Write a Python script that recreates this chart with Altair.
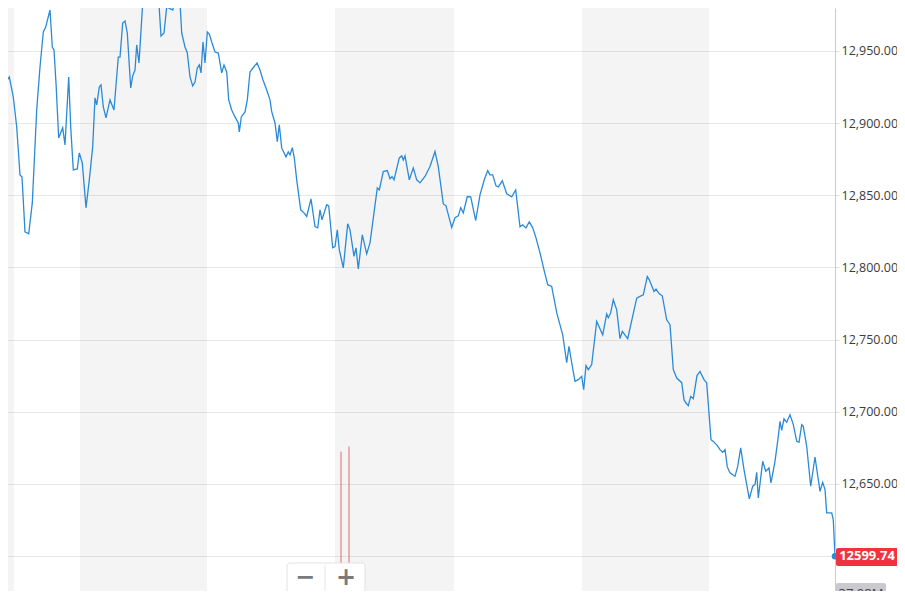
import altair as alt
import pandas as pd

# ---- data (time index, index level) ----
t = [0, 2.7, 5, 7.3, 9.3, 13.3, 16.7, 20, 22, 25, 28.7, 32.3, 36.7, 40, 43.3, 45.7, 50, 52.3, 54, 56,
     58.7, 62.7, 65, 68.7, 70.7, 73.3, 77.3, 79.3, 82.3, 86, 89.3, 92.7, 95, 96.7, 99.3, 101, 103.3, 106,
     110, 114, 118.3, 120, 122.7, 125, 127.3, 130.7, 132.7, 135, 136.7, 139, 142.7, 146, 150, 154, 158.7,
     161, 164, 166.7, 172.7, 175, 176.7, 180, 181.7, 185, 187.3, 190, 192.7, 195, 197.3, 199.3, 201, 203,
     205, 207.3, 209.3, 212, 215, 218.3, 221.7, 224, 226.7, 228.7, 231.7, 235, 238.3, 239.3, 241.3, 245,
     247.3, 250, 253, 257, 260, 263, 266, 270, 271.7, 275, 277.3, 279.3, 281.7, 286, 288.3, 290, 292.3,
     294.3, 296.7, 300.7, 304, 306.7, 311, 315, 317.7, 320, 322, 326.7, 328.7, 332.7, 335, 337.3, 339.3,
     343.3, 347.7, 350, 354, 356, 358.3, 362.3, 366.7, 370, 374, 377.3, 379.3, 383.3, 387.3, 390, 392, 394,
     399.3, 401.7, 403.3, 405, 409.3, 413.3, 416.7, 420, 425, 430, 435, 438.3, 443.3, 446, 451.7, 455,
     458.3, 460.7, 463.3, 467.3, 470.7, 475.7, 480, 484.3, 487.7, 490, 492.7, 496, 498.3, 502.3, 506.7,
     511.7, 515.7, 520, 522.7, 526, 529.3, 532.7, 536, 540, 544, 547.7, 551.7, 556.7, 562.7, 566.7, 569,
     571.7, 575, 578.3, 581.7, 583.7, 586, 588.3, 591.7, 596.7, 602.7, 606.7, 608.3, 610.7, 613.3, 616.7,
     620, 622.3, 627.7, 636.7, 640, 643.3, 647.3, 649.3, 654, 656, 659.3, 662.3, 666.7, 670, 673.3, 676.7,
     681.7, 684, 686, 688.3, 690.7, 693.3, 697, 700, 704, 706.7, 711, 713.3, 717.3, 720, 722.7, 725, 727.3,
     730, 735, 737.7, 740.7, 744, 749.3, 752.7, 755, 756.7, 758.3, 762.7, 765.7, 769, 771, 775, 778.3, 780,
     781.7, 784, 786.7, 790, 793.3, 796.7, 799, 801.7, 803.3, 806.7, 810.7, 815, 820, 822.7, 825, 826.7,
     831.7, 833.3, 835]

price = [12935.5, 12932.0, 12916.8, 12929.9, 12932.0, 12918.1, 12897.4, 12864.1, 12862.7, 12824.7,
         12823.3, 12844.7, 12909.1, 12938.9, 12963.2, 12966.6, 12978.4, 12952.8, 12950.7, 12927.8,
         12889.8, 12896.7, 12884.9, 12932.0, 12897.4, 12867.6, 12868.3, 12879.4, 12872.4, 12841.3,
         12860.7, 12883.5, 12917.5, 12912.6, 12925.1, 12926.5, 12911.2, 12903.6, 12916.1, 12909.1,
         12945.8, 12945.8, 12969.4, 12970.8, 12962.5, 12924.4, 12932.7, 12936.8, 12954.2, 12941.7,
         12983.2, 12996.0, 12993.0, 12991.0, 12985.3, 12960.4, 12962.5, 12980.5, 12978.4, 12983.9,
         12980.5, 12983.9, 12962.5, 12952.8, 12948.6, 12932.0, 12925.8, 12928.5, 12938.2, 12940.3,
         12934.8, 12956.2, 12941.7, 12963.2, 12961.8, 12955.5, 12949.3, 12948.6, 12934.8, 12940.3,
         12935.5, 12916.1, 12909.1, 12904.3, 12900.1, 12893.9, 12904.3, 12907.8, 12916.1, 12935.5,
         12938.2, 12941.7, 12936.8, 12929.9, 12924.4, 12916.1, 12908.0, 12900.1, 12887.2, 12898.8,
         12882.8, 12876.6, 12880.1, 12878.0, 12883.0, 12875.9, 12860.7, 12839.9, 12837.8, 12835.3,
         12847.5, 12828.3, 12827.4, 12839.9, 12833.0, 12843.4, 12842.7, 12813.6, 12814.5, 12826.0,
         12812.2, 12799.7, 12830.2, 12826.0, 12807.6, 12813.6, 12799.0, 12822.6, 12809.4, 12817.0,
         12837.8, 12855.1, 12853.7, 12866.4, 12867.1, 12861.4, 12863.0, 12860.7, 12875.9, 12877.3,
         12874.5, 12877.3, 12860.7, 12869.0, 12860.7, 12858.6, 12863.0, 12869.9, 12880.3, 12869.9,
         12844.0, 12842.7, 12827.6, 12834.4, 12835.7, 12841.3, 12837.8, 12849.1, 12848.9, 12832.5,
         12850.3, 12860.7, 12867.1, 12864.1, 12864.1, 12856.5, 12855.8, 12860.0, 12851.0, 12848.9,
         12853.7, 12828.1, 12829.5, 12827.4, 12831.6, 12827.4, 12820.5, 12810.1, 12798.3, 12788.0,
         12786.8, 12768.6, 12753.3, 12733.9, 12745.2, 12733.9, 12721.0, 12722.2, 12724.5, 12715.2,
         12731.9, 12729.1, 12732.6, 12762.5, 12753.3, 12767.7, 12765.1, 12768.6, 12777.6, 12770.6,
         12750.6, 12755.6, 12750.6, 12778.7, 12779.9, 12781.0, 12793.7, 12791.4, 12783.3, 12785.0,
         12781.7, 12780.3, 12763.7, 12760.3, 12729.1, 12723.3, 12720.1, 12708.3, 12706.0, 12704.2,
         12710.6, 12709.0, 12725.0, 12727.9, 12722.2, 12719.9, 12680.6, 12679.4, 12676.5, 12673.7,
         12671.8, 12673.7, 12661.7, 12657.6, 12655.2, 12662.1, 12674.9, 12659.8, 12639.5, 12648.3,
         12649.5, 12658.0, 12640.2, 12665.6, 12658.7, 12661.0, 12650.6, 12665.6, 12682.9, 12693.3,
         12687.1, 12695.0, 12692.6, 12697.9, 12691.0, 12679.4, 12678.7, 12691.0, 12689.8, 12676.0,
         12648.3, 12668.6, 12644.8, 12651.0, 12646.0, 12629.9, 12629.9, 12625.0, 12599.74]

band_start = [0, 80, 335, 582]
band_end = [14, 207, 454, 709]
marker_t = [341, 349]
marker_top = [12672.3, 12675.8]
y_ticks = [12600, 12650, 12700, 12750, 12800, 12850, 12900, 12950]
last_price = price[-1]
volume_label = "37.08M"
zoom_labels = ["\u2212", "+"]

W, H = 827, 583
BLUE = "#2a8ad8"

line_df = pd.DataFrame({"t": t, "price": price})
band_df = pd.DataFrame({"t0": band_start, "t1": band_end})
marker_df = pd.DataFrame({"t": marker_t, "top": marker_top})
last_df = pd.DataFrame({"t": [t[-1]], "price": [last_price], "label": [f"{last_price:.2f}"]})
vol_df = pd.DataFrame({"label": [volume_label]})
zoom_df = pd.DataFrame({"label": zoom_labels, "px": [297, 338]})
one = pd.DataFrame({"k": [0]})

xs = alt.Scale(domain=[8, 835], nice=False, zero=False)
ys = alt.Scale(domain=[12575.7, 12979.8], nice=False, zero=False)

bands = alt.Chart(band_df).mark_rect(color="#000000", opacity=0.042).encode(
    x=alt.X("t0:Q", scale=xs, axis=None),
    x2="t1:Q",
    y=alt.value(0),
    y2=alt.value(H),
)

line = alt.Chart(line_df).mark_line(color=BLUE, strokeWidth=1.3, clip=True).encode(
    x=alt.X("t:Q", scale=xs, axis=None),
    y=alt.Y("price:Q", scale=ys,
            axis=alt.Axis(orient="right", values=y_ticks, format=",.2f", title=None,
                          labelFont="Open Sans", labelFontSize=12.5, labelColor="#3c3c3c",
                          gridColor="#e8e8e8", domainColor="#cccccc", tickColor="#dddddd",
                          tickSize=4, labelPadding=2, labelBaseline="middle")),
)

markers = alt.Chart(marker_df).mark_rule(color="#e46b6b", strokeWidth=1).encode(
    x=alt.X("t:Q", scale=xs),
    y=alt.Y("top:Q", scale=ys),
    y2=alt.value(H),
)

zoom_box = alt.Chart(one).mark_rect(fill="#ffffff", stroke="#e2e2e2", strokeWidth=1,
                                    cornerRadius=3).encode(
    x=alt.value(279), x2=alt.value(357), y=alt.value(555), y2=alt.value(585)
)
zoom_div = alt.Chart(one).mark_rule(color="#e6e6e6").encode(
    x=alt.value(317), y=alt.value(557), y2=alt.value(583)
)
zoom_txt = alt.Chart(zoom_df).mark_text(font="DejaVu Sans", fontSize=24, fontWeight="bold",
                                        color="#7a7a7a", baseline="middle").encode(
    x=alt.X("px:Q", scale=None), y=alt.value(570), text="label:N"
)

dot = alt.Chart(last_df).mark_circle(color=BLUE, size=42, opacity=1, clip=False).encode(
    x=alt.X("t:Q", scale=xs), y=alt.Y("price:Q", scale=ys)
)

price_box = alt.Chart(one).mark_rect(color="#ef3340", cornerRadius=2).encode(
    x=alt.value(828), x2=alt.value(890), y=alt.value(540), y2=alt.value(558)
)
price_txt = alt.Chart(last_df).mark_text(font="Open Sans", fontSize=13, fontWeight="bold",
                                         color="#ffffff", baseline="middle", align="center").encode(
    x=alt.value(859), y=alt.Y("price:Q", scale=ys), text="label:N"
)

vol_box = alt.Chart(one).mark_rect(color="#c9c9ce", cornerRadius=2).encode(
    x=alt.value(828), x2=alt.value(878), y=alt.value(575), y2=alt.value(595)
)
vol_txt = alt.Chart(vol_df).mark_text(font="Open Sans", fontSize=13, color="#444444",
                                      baseline="middle", align="center").encode(
    x=alt.value(853), y=alt.value(586), text="label:N"
)

chart = alt.layer(
    bands, line, markers, zoom_box, zoom_div, zoom_txt, dot, price_box, price_txt, vol_box, vol_txt
).properties(
    width=W, height=H,
    autosize=alt.AutoSizeParams(type="none"),
    padding={"left": 0, "top": 0, "right": 62, "bottom": 0},
    background="#ffffff",
).configure_view(stroke=None)

chart.save("out.html", embed_options={"renderer": "svg", "actions": False})
